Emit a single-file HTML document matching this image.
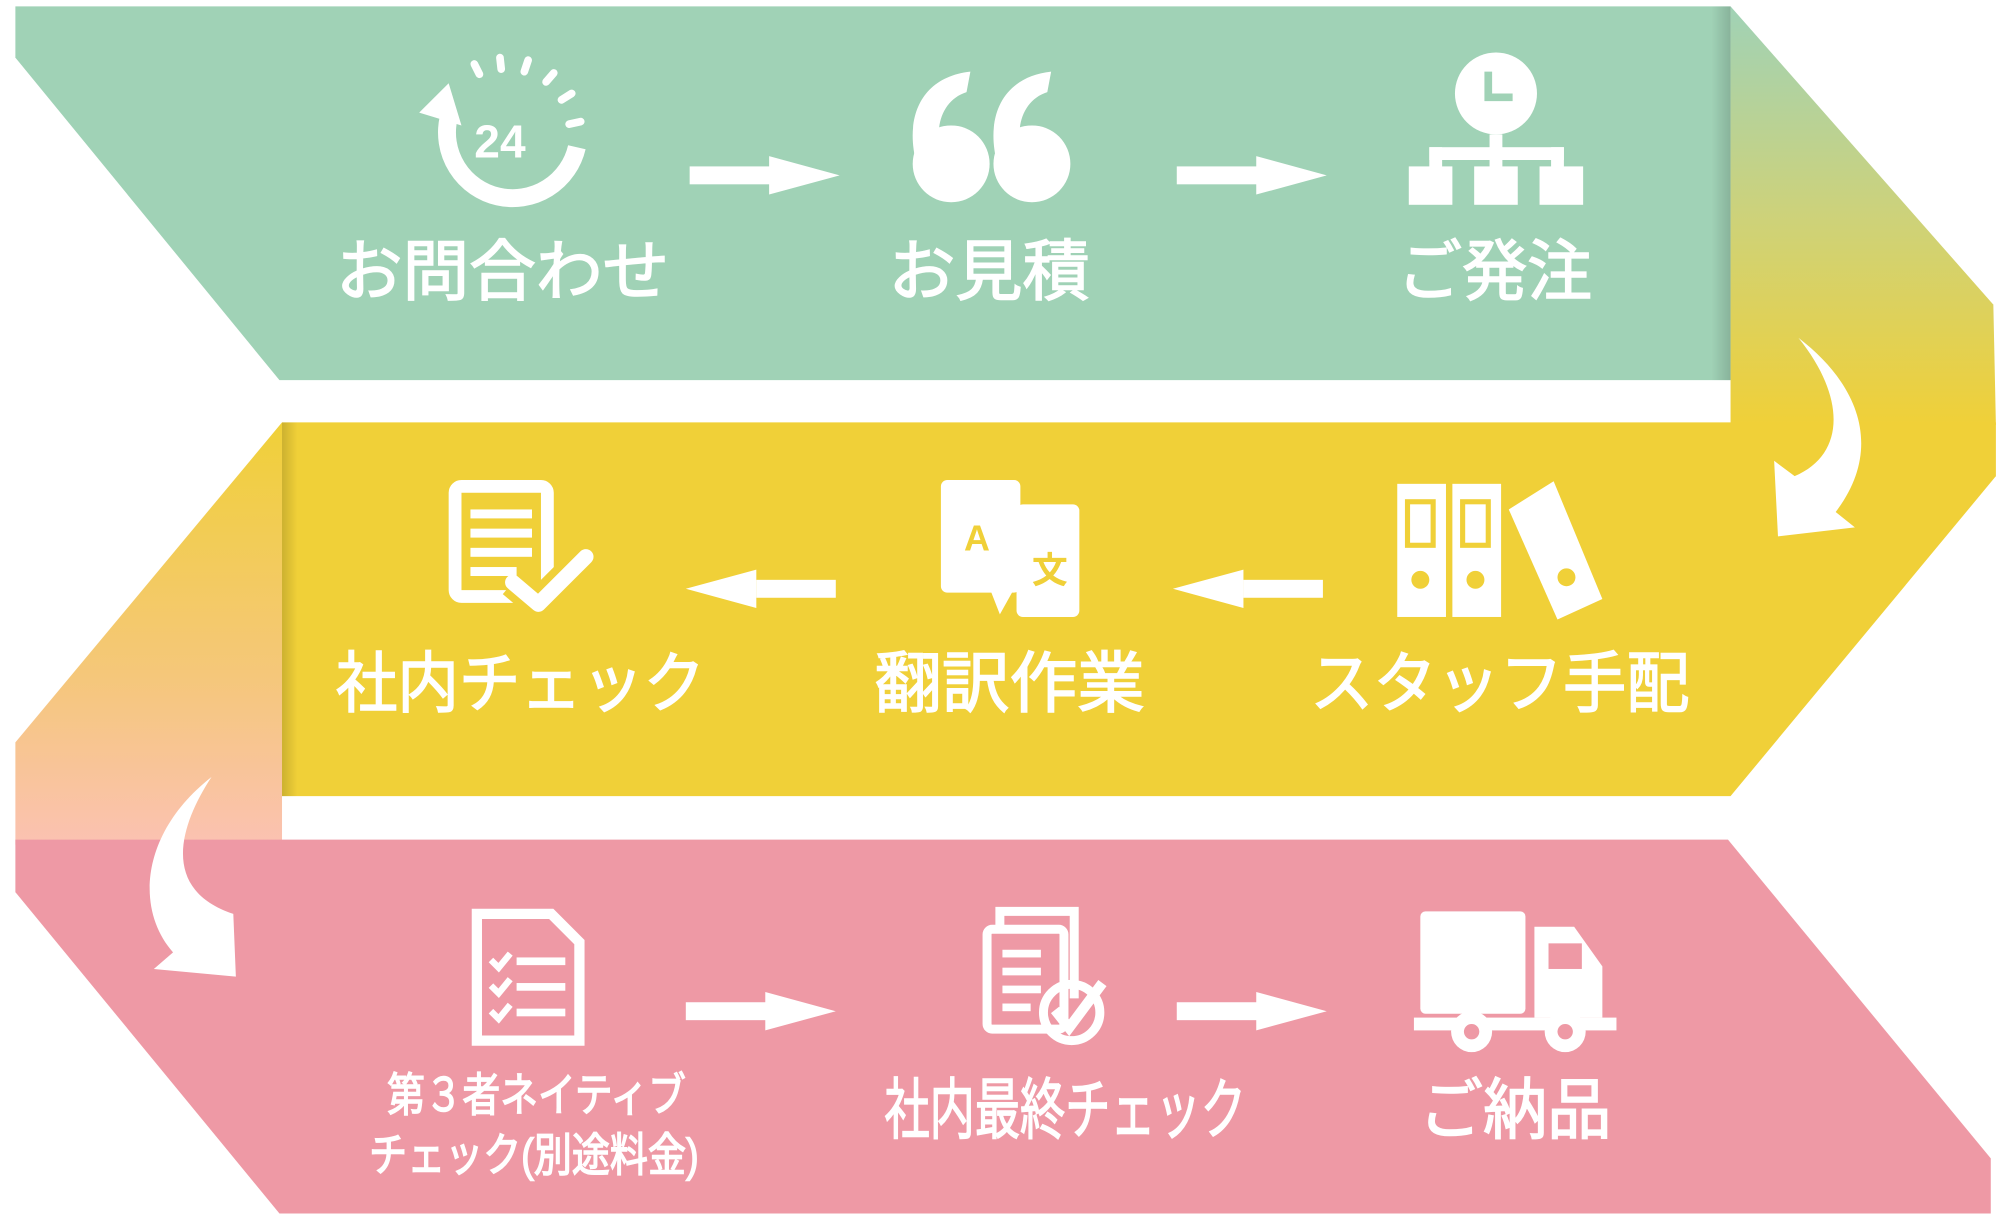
<!DOCTYPE html>
<html><head><meta charset="utf-8"><style>
html,body{margin:0;padding:0;background:#fff;}
svg{display:block;}
text{font-family:"Liberation Sans","Noto Sans CJK JP",sans-serif;fill:#fff;}
.l{stroke:#fff;stroke-width:1.2;}
</style></head><body>
<svg width="2010" height="1216" viewBox="0 0 1568 950" preserveAspectRatio="none" xmlns="http://www.w3.org/2000/svg">
<defs>
<linearGradient id="g1" x1="0" y1="0" x2="0" y2="1"><stop offset="0" stop-color="#a0d2b6"/><stop offset="0.5" stop-color="#cdd27a"/><stop offset="1" stop-color="#f0d038"/></linearGradient>
<linearGradient id="g2" x1="0" y1="0" x2="0" y2="1"><stop offset="0" stop-color="#f0d038"/><stop offset="0.6" stop-color="#f5c77a"/><stop offset="1" stop-color="#fbc2b2"/></linearGradient>
<linearGradient id="sh" x1="0" y1="0" x2="1" y2="0"><stop offset="0" stop-color="#000" stop-opacity="0"/><stop offset="1" stop-color="#000" stop-opacity="0.15"/></linearGradient>
<linearGradient id="sh2" x1="0" y1="0" x2="1" y2="0"><stop offset="0" stop-color="#000" stop-opacity="0.15"/><stop offset="1" stop-color="#000" stop-opacity="0"/></linearGradient>
</defs>
<polygon points="1350,5 1555,238 1557,332 1350,332" fill="url(#g1)"/>
<polygon points="12,5 1350,5 1350,297 218,297 12,45" fill="#a0d2b6"/>
<rect x="1335" y="5" width="15" height="292" fill="url(#sh)"/>
<polygon points="220,330 12,580 12,660 220,660" fill="url(#g2)"/>
<polygon points="220,330 1557,330 1557,372 1350,622 220,622" fill="#f0d038"/>
<rect x="220" y="330" width="12" height="292" fill="url(#sh2)"/>
<polygon points="12,656 1348,656 1553,905 1553,948 218,948 12,697" fill="#ee99a5"/>
<path d="M1403,264 C1450,300 1470,350 1432,400 L1447,412 L1387,419 L1384,360 L1400,372 C1440,355 1440,310 1403,264 Z" fill="#fff"/>
<path d="M165,607 C140,645 125,695 182,714 L184,763 L120,757 L135,744 C105,710 110,650 165,607 Z" fill="#fff"/>
<g fill="#fff">
<rect x="538" y="130" width="65" height="14"/><polygon points="600,122 655,137 600,152"/>
<rect x="918" y="130" width="65" height="14"/><polygon points="980,122 1035,137 980,152"/>
<rect x="590" y="453" width="62" height="14"/><polygon points="590,445 535,460 590,475"/>
<rect x="970" y="453" width="62" height="14"/><polygon points="970,445 915,460 970,475"/>
<rect x="535" y="783" width="65" height="14"/><polygon points="597,775 652,790 597,805"/>
<rect x="918" y="783" width="65" height="14"/><polygon points="980,775 1035,790 980,805"/>
</g>
<g fill="none" stroke="#fff" stroke-width="14">
<path d="M350,92 A50,50 0 1 0 450,115"/>
</g>
<polygon points="327,88 350,65 360,98" fill="#fff"/>
<text x="370" y="123" font-size="36" font-weight="bold">24</text>
<g stroke="#fff" stroke-width="6" stroke-linecap="round">
<line x1="370" y1="50" x2="374" y2="58"/><line x1="390" y1="45" x2="391" y2="54"/><line x1="412" y1="47" x2="409" y2="56"/><line x1="432" y1="57" x2="426" y2="64"/><line x1="446" y1="73" x2="438" y2="78"/><line x1="453" y1="95" x2="444" y2="97"/>
</g>
<g fill="#fff">
<circle cx="742" cy="128" r="30"/><path d="M715,128 C705,90 720,60 757,56 L754,72 C735,78 728,100 735,120 Z"/>
<circle cx="805" cy="128" r="30"/><path d="M778,128 C768,90 783,60 820,56 L817,72 C798,78 791,100 798,120 Z"/>
<circle cx="1167" cy="73" r="32"/>
<rect x="1162" y="105" width="10" height="20"/>
<rect x="1115" y="115" width="105" height="10"/>
<rect x="1115" y="115" width="10" height="20"/><rect x="1162" y="115" width="10" height="20"/><rect x="1210" y="115" width="10" height="20"/>
<rect x="1099" y="130" width="34" height="30"/><rect x="1150" y="130" width="34" height="30"/><rect x="1201" y="130" width="34" height="30"/>
</g>
<polyline points="1161,56 1161,76 1180,76" fill="none" stroke="#a0d2b6" stroke-width="6"/>
<g fill="none" stroke="#fff" stroke-width="10">
<rect x="355" y="380" width="72" height="86" rx="5"/>
</g>
<g fill="#fff">
<rect x="367" y="398" width="48" height="7"/><rect x="367" y="413" width="48" height="7"/><rect x="367" y="428" width="48" height="7"/><rect x="367" y="443" width="36" height="7"/>
</g>
<polyline points="400,455 420,472 457,435" fill="none" stroke="#f0d038" stroke-width="24" stroke-linejoin="round"/>
<polyline points="400,455 420,472 457,435" fill="none" stroke="#fff" stroke-width="12" stroke-linejoin="round" stroke-linecap="round"/>
<g fill="#fff">
<rect x="734" y="375" width="62" height="88" rx="5"/>
<rect x="793" y="394" width="49" height="88" rx="5"/>
<polygon points="773,462 790,462 780,480"/>
</g>
<text x="752" y="430" font-size="28" font-weight="bold" style="fill:#f0d038">A</text>
<text x="805" y="455" font-size="28" font-weight="bold" style="fill:#f0d038">文</text>
<g fill="#fff">
<rect x="1090" y="378" width="38" height="104"/><rect x="1133" y="378" width="38" height="104"/>
<polygon points="1177,398 1212,376 1250,468 1215,484"/>
</g>
<g fill="none" stroke="#f0d038" stroke-width="4"><rect x="1098" y="392" width="20" height="34"/><rect x="1141" y="392" width="20" height="34"/></g>
<circle cx="1108" cy="453" r="7" fill="#f0d038"/><circle cx="1151" cy="453" r="7" fill="#f0d038"/><circle cx="1222" cy="451" r="7" fill="#f0d038"/>
<path d="M372,714 L430,714 L452,736 L452,813 L372,813 Z" fill="none" stroke="#fff" stroke-width="8"/>
<g fill="#fff"><rect x="403" y="748" width="38" height="6"/><rect x="403" y="768" width="38" height="6"/><rect x="403" y="788" width="38" height="6"/></g>
<g fill="none" stroke="#fff" stroke-width="5"><polyline points="383,750 389,756 398,745"/><polyline points="383,770 389,776 398,765"/><polyline points="383,790 389,796 398,785"/></g>
<g fill="none" stroke="#fff" stroke-width="7">
<rect x="770" y="726" width="60" height="78" rx="4"/>
<path d="M780,726 V712 H838 V780"/>
<circle cx="836" cy="791" r="22"/>
</g>
<g fill="#fff"><rect x="782" y="742" width="30" height="6"/><rect x="782" y="756" width="30" height="6"/><rect x="782" y="770" width="30" height="6"/><rect x="782" y="784" width="22" height="6"/></g>
<polyline points="823,789 834,803 860,768" fill="none" stroke="#fff" stroke-width="8"/>
<g fill="#fff">
<rect x="1108" y="712" width="82" height="80" rx="4"/>
<path d="M1197,724 H1228 L1250,755 V795 H1197 Z"/>
<rect x="1103" y="795" width="158" height="10"/>
<circle cx="1148" cy="806" r="16"/><circle cx="1221" cy="806" r="16"/>
</g>
<rect x="1208" y="737" width="26" height="20" fill="#ee99a5"/>
<circle cx="1148" cy="806" r="6" fill="#ee99a5"/><circle cx="1221" cy="806" r="6" fill="#ee99a5"/>
<g font-size="52" class="l">
<text x="262" y="230" textLength="260" lengthAdjust="spacingAndGlyphs">お問合わせ</text>
<text x="693" y="230" textLength="157" lengthAdjust="spacingAndGlyphs">お見積</text>
<text x="1090" y="230" textLength="152" lengthAdjust="spacingAndGlyphs">ご発注</text>
<text x="262" y="552" textLength="288" lengthAdjust="spacingAndGlyphs">社内チェック</text>
<text x="682" y="552" textLength="211" lengthAdjust="spacingAndGlyphs">翻訳作業</text>
<text x="1022" y="552" textLength="296" lengthAdjust="spacingAndGlyphs">スタッフ手配</text>
<text x="690" y="885" textLength="282" lengthAdjust="spacingAndGlyphs">社内最終チェック</text>
<text x="1107" y="885" textLength="150" lengthAdjust="spacingAndGlyphs">ご納品</text>
</g>
<g font-size="36" class="l">
<text x="302" y="868" textLength="233" lengthAdjust="spacingAndGlyphs">第３者ネイティブ</text>
<text x="288" y="915" textLength="257" lengthAdjust="spacingAndGlyphs">チェック(別途料金)</text>
</g>
</svg>
</body></html>
